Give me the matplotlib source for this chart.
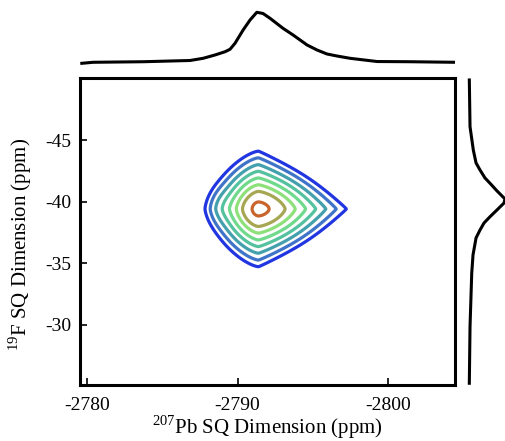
import numpy as np
import matplotlib
matplotlib.use("Agg")
import matplotlib.pyplot as plt

plt.rcParams["font.family"] = ["Liberation Serif", "DejaVu Serif"]
plt.rcParams["mathtext.fontset"] = "custom"
plt.rcParams["mathtext.rm"] = "Liberation Serif"
plt.rcParams["axes.unicode_minus"] = False

# 207Pb (F2) and 19F (F1) ranges, ppm
pb_range = (-2779.53, -2804.45)
f_range = (-25.13, -50.03)
pb_ticks = [-2780, -2790, -2800]
f_ticks = [-45, -40, -35, -30]

# cross peak: centre and half-widths (ppm), contour levels as shape radii
peak_pb = -2791.39
peak_f = -39.41
width_pb_left = 1.06
width_pb_right = 1.77
width_f = 1.42
level_radii = [3.3, 2.92, 2.53, 2.15, 1.77, 1.38, 1.0, 0.4]
level_colors = ["#2136e0", "#3f74c8", "#44a0ad", "#55c29f",
                "#6fda8b", "#8ee07a", "#a7a753", "#c9652c"]

# weak shoulder on the low-field side of the cross peak
shoulder_pb = -2788.9
shoulder_f = -39.6
shoulder_amp = 0.014
shoulder_w = (0.75, 1.3)

# 207Pb projection (top)
proj_pb = [-2779.65, -2780.40, -2783.72, -2786.84, -2787.71, -2788.50,
           -2789.17, -2789.50, -2789.83, -2790.37, -2790.83, -2791.28,
           -2791.69, -2792.16, -2793.02, -2793.69, -2794.62, -2795.28,
           -2795.95, -2796.61, -2797.48, -2799.27, -2801.46, -2804.45]
proj_pb_int = [-0.006, 0.014, 0.025, 0.049, 0.092, 0.157, 0.221, 0.269,
               0.386, 0.647, 0.843, 0.994, 0.971, 0.876, 0.680, 0.549,
               0.353, 0.255, 0.176, 0.137, 0.092, 0.029, 0.025, 0.014]

# 19F projection (right)
proj_f = [-49.87, -46.08, -44.19, -43.14, -42.57, -41.92, -41.49, -40.87,
          -40.22, -39.89, -39.33, -38.78, -38.27, -37.70, -37.06, -35.68,
          -34.19, -29.86, -25.27]
proj_f_int = [0.008, 0.027, 0.116, 0.19, 0.297, 0.432, 0.568, 0.757,
              0.973, 0.946, 0.757, 0.568, 0.405, 0.297, 0.19, 0.108,
              0.073, 0.027, 0.008]

W, H = 506, 441
fig = plt.figure(figsize=(W / 100, H / 100), dpi=100)

ax = fig.add_axes([80 / W, 1 - 385 / H, 375 / W, 307 / H])
ax_top = fig.add_axes([80 / W, 1 - 68 / H, 375 / W, 68 / H])
ax_right = fig.add_axes([462 / W, 1 - 385 / H, 44 / W, 307 / H])

# 2D spectrum on a grid
pb = np.linspace(pb_range[1], pb_range[0], 500)
ff = np.linspace(f_range[1], f_range[0], 500)
PB, FF = np.meshgrid(pb, ff)
dx = peak_pb - PB
dy = FF - peak_f
u = np.abs(dx) / np.where(dx > 0, width_pb_right, width_pb_left)
v = np.abs(dy) / width_f
r = np.hypot(u, v)
p = np.where(dx > 0, 1 + 0.9 * np.exp(-r / 1.5), 1.45 + 0.55 * np.exp(-r / 0.9))
d = (u ** p + v ** p) ** (1 / p)
spec = np.exp(-d)
spec += shoulder_amp * np.exp(-((PB - shoulder_pb) / shoulder_w[0]) ** 2
                              - ((FF - shoulder_f) / shoulder_w[1]) ** 2)

levels = np.exp(-np.array(level_radii))
ax.contour(PB, FF, spec, levels=levels, colors=level_colors, linewidths=2.3)

ax.set_xlim(*pb_range)
ax.set_ylim(*f_range)
ax.set_xticks(pb_ticks)
ax.set_yticks(f_ticks)
ax.tick_params(direction="in", length=5, width=1.2, labelsize=14)
ax.tick_params(axis="x", pad=9)
ax.tick_params(axis="y", pad=6)
for s in ax.spines.values():
    s.set_linewidth(2.2)
ax.set_xlabel("$^{207}$Pb SQ Dimension (ppm)", fontsize=15)
ax.set_ylabel("$^{19}$F SQ Dimension (ppm)", fontsize=15)
ax.xaxis.set_label_coords(0.5, -0.094)
ax.yaxis.set_label_coords(-0.1227, 0.459)

ax_top.plot(proj_pb, proj_pb_int, color="black", lw=2.2)
ax_top.set_xlim(*pb_range)
ax_top.set_ylim(-0.098, 1.235)
ax_top.axis("off")

ax_right.plot(proj_f_int, proj_f, color="black", lw=2.2, clip_on=False)
ax_right.set_ylim(*f_range)
ax_right.set_xlim(-0.19, 1.0)
ax_right.axis("off")

fig.savefig("out.png", dpi=100)
